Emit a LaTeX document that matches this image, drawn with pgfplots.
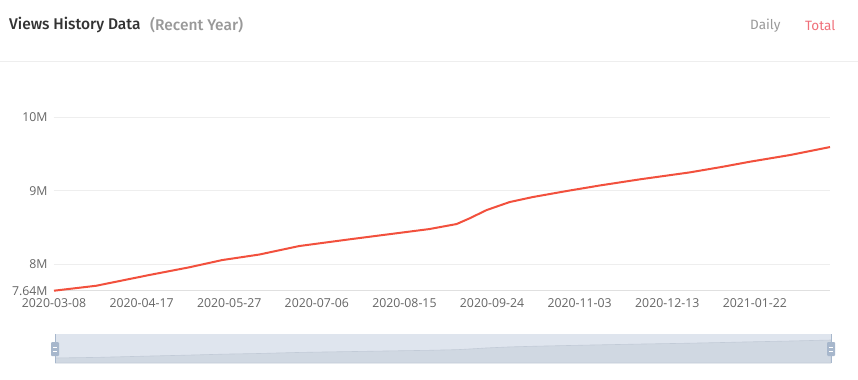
\documentclass[border=0pt]{standalone}
\usepackage{pgfplots}
\pgfplotsset{compat=1.18}
\usepackage{fontspec}
\setmainfont{Open Sans}
\newfontfamily\titlefont{Fira Sans}[UprightFont=* Medium]
\newfontfamily\legfont{Fira Sans}
\definecolor{linered}{HTML}{F2503D}
\definecolor{tickgray}{HTML}{666666}
\definecolor{gridgray}{HTML}{EEEEEE}
\definecolor{axisgray}{HTML}{E0E0E0}
\definecolor{titlecol}{HTML}{333333}
\definecolor{subcol}{HTML}{999999}
\definecolor{totalcol}{HTML}{F0707A}
\definecolor{sliderbg}{HTML}{DFE5EE}
\definecolor{shadowfill}{HTML}{D0D8E2}
\definecolor{shadowline}{HTML}{C2CBD7}
\definecolor{handlecol}{HTML}{A7B7CC}
\pgfplotstableread{
day value
0 7.640
19.2 7.707
43.4 7.853
61.7 7.958
76.8 8.057
93.7 8.132
112 8.248
134.9 8.339
150 8.397
171.4 8.479
183.8 8.547
189.7 8.624
197.5 8.737
208 8.846
218.5 8.914
234 8.996
249 9.071
267.4 9.155
290.3 9.250
305.4 9.327
317.7 9.395
336 9.486
354.3 9.595
}\views
\begin{document}
\begin{tikzpicture}
\path[use as bounding box, fill=white] (0,0) rectangle (858bp,-380bp);
% header
\node[anchor=west, inner sep=0pt, text=titlecol, font=\titlefont\fontsize{15.5bp}{17bp}\selectfont] at (9bp,-25bp) {Views History Data};
\node[anchor=west, inner sep=0pt, text=subcol, font=\titlefont\fontsize{15.5bp}{17bp}\selectfont] at (150bp,-25bp) {(Recent Year)};
\node[anchor=west, inner sep=0pt, text=subcol, font=\legfont\fontsize{13.5bp}{16bp}\selectfont] at (750bp,-26bp) {Daily};
\node[anchor=west, inner sep=0pt, text=totalcol, font=\legfont\fontsize{13.5bp}{16bp}\selectfont] at (805bp,-26bp) {Total};
\draw[color=gridgray, line width=1bp] (0,-61bp) -- (858bp,-61bp);
% main chart
\begin{axis}[
  at={(54bp,-290.7bp)}, anchor=south west,
  scale only axis, width=776bp, height=191.8bp,
  xmin=0, xmax=354.3, ymin=7.64, ymax=10.25,
  axis x line*=bottom, axis y line*=left,
  x axis line style={draw=axisgray, line width=1bp},
  y axis line style={draw=none},
  xtick={0,40,80,120,160,200,240,280,320},
  xticklabels={2020-03-08,2020-04-17,2020-05-27,2020-07-06,2020-08-15,2020-09-24,2020-11-03,2020-12-13,2021-01-22},
  ytick={7.64,8,9,10},
  yticklabels={7.64M,8M,9M,10M},
  major tick length=0pt,
  ymajorgrids, grid style={draw=gridgray, line width=0.8bp},
  tick label style={text=tickgray, font=\fontsize{12.3bp}{14bp}\selectfont},
  xticklabel style={yshift=-4bp},
  yticklabel style={xshift=-3bp},
  clip=false,
]
\addplot[color=linered, line width=2bp, line join=round] table[x=day, y=value] {\views};
\end{axis}
% data zoom slider
\fill[sliderbg] (55bp,-334bp) rectangle (831bp,-363bp);
\begin{axis}[
  at={(55bp,-363bp)}, anchor=south west,
  scale only axis, width=776bp, height=29bp,
  xmin=0, xmax=354.3, ymin=7.097, ymax=10.247,
  hide axis,
]
\addplot[draw=shadowline, line width=0.6bp, fill=shadowfill] table[x=day, y=value] {\views} \closedcycle;
\end{axis}
\draw[handlecol, line width=1bp] (55bp,-334bp) -- (55bp,-363bp);
\draw[handlecol, line width=1bp] (831bp,-334bp) -- (831bp,-363bp);
\foreach \hx in {55,831} {
  \fill[handlecol, rounded corners=1bp] (\hx bp-4bp,-342bp) rectangle (\hx bp+4bp,-356bp);
  \draw[white, line width=0.8bp] (\hx bp-2bp,-347bp) -- (\hx bp+2bp,-347bp);
  \draw[white, line width=0.8bp] (\hx bp-2bp,-351bp) -- (\hx bp+2bp,-351bp);
}
\end{tikzpicture}
\end{document}
